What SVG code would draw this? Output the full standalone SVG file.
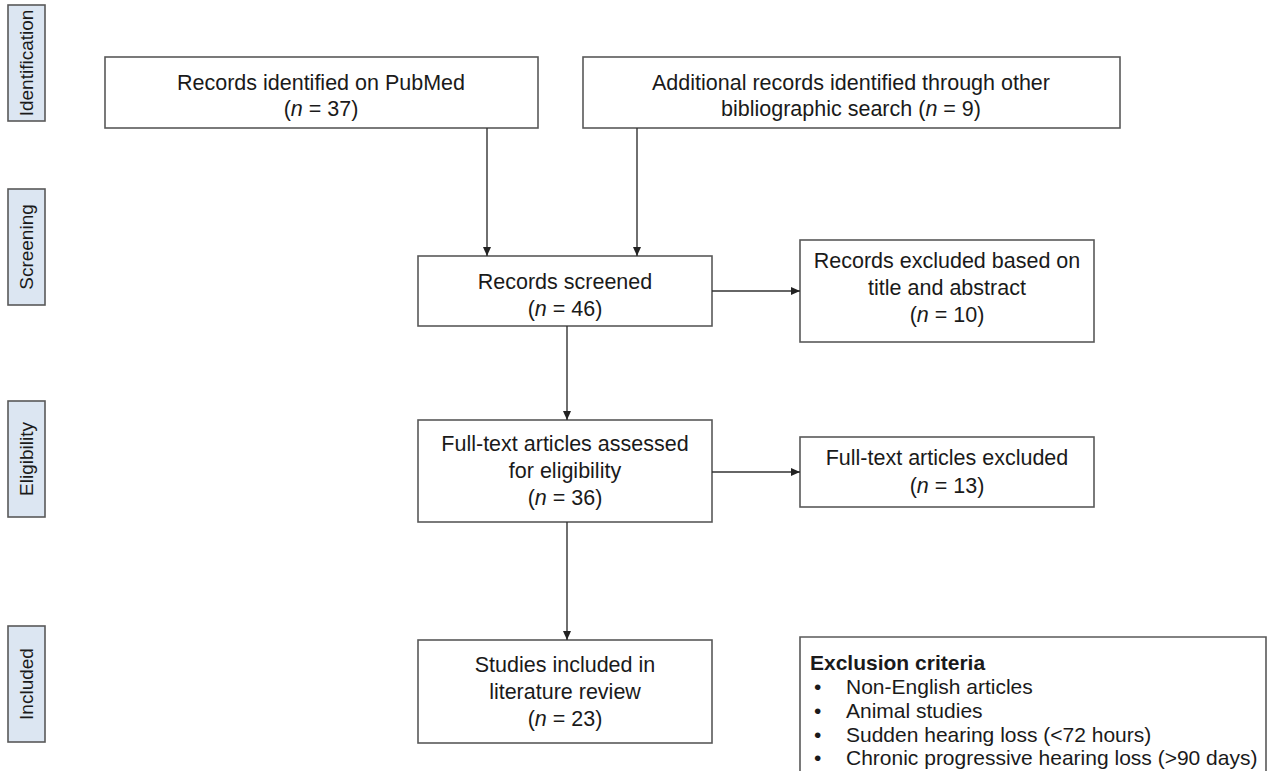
<svg xmlns="http://www.w3.org/2000/svg" width="1269" height="771" viewBox="0 0 1269 771">
<defs>
<style>
.box{fill:#fff;stroke:#595959;stroke-width:1.6}
.side{fill:#dce6f2;stroke:#595959;stroke-width:1.6}
.t{font-family:"Liberation Sans",Arial,sans-serif;font-size:21.5px;fill:#1a1a1a;text-anchor:middle}
.st{font-family:"Liberation Sans",Arial,sans-serif;font-size:19px;fill:#1a1a1a;text-anchor:middle}
.l{font-family:"Liberation Sans",Arial,sans-serif;font-size:21px;fill:#1a1a1a}
.c{stroke:#333;stroke-width:1.4;fill:none}
</style>
<marker id="ah" markerWidth="10" markerHeight="10" refX="9" refY="5" orient="auto" markerUnits="userSpaceOnUse">
<path d="M0,1 L9,5 L0,9 Z" fill="#222"/>
</marker>
</defs>
<rect width="1269" height="771" fill="#fff"/>
<g id="lbl-identification"><rect class="side" x="8" y="5" width="37" height="116"/><text class="st" transform="translate(33,63) rotate(-90)">Identification</text></g>
<g id="lbl-screening"><rect class="side" x="8" y="189" width="37" height="116"/><text class="st" transform="translate(33,247) rotate(-90)">Screening</text></g>
<g id="lbl-eligibility"><rect class="side" x="8" y="401" width="37" height="116"/><text class="st" transform="translate(33,459) rotate(-90)">Eligibility</text></g>
<g id="lbl-included"><rect class="side" x="8" y="626" width="37" height="116"/><text class="st" transform="translate(33,684) rotate(-90)">Included</text></g>
<g id="n-pubmed"><rect class="box" x="105" y="57" width="433" height="71"/><text class="t" x="321" y="90">Records identified on PubMed</text><text class="t" x="321" y="116">(<tspan font-style="italic">n</tspan> = 37)</text></g>
<g id="n-additional"><rect class="box" x="583" y="57" width="537" height="71"/><text class="t" x="851" y="90">Additional records identified through other</text><text class="t" x="851" y="116">bibliographic search (<tspan font-style="italic">n</tspan> = 9)</text></g>
<g id="n-screened"><rect class="box" x="418" y="256" width="294" height="70"/><text class="t" x="565" y="289">Records screened</text><text class="t" x="565" y="316">(<tspan font-style="italic">n</tspan> = 46)</text></g>
<g id="n-excl1"><rect class="box" x="800" y="240" width="294" height="102"/><text class="t" x="947" y="268">Records excluded based on</text><text class="t" x="947" y="295">title and abstract</text><text class="t" x="947" y="322">(<tspan font-style="italic">n</tspan> = 10)</text></g>
<g id="n-assessed"><rect class="box" x="418" y="420" width="294" height="102"/><text class="t" x="565" y="451">Full-text articles assessed</text><text class="t" x="565" y="478">for eligibility</text><text class="t" x="565" y="505">(<tspan font-style="italic">n</tspan> = 36)</text></g>
<g id="n-excl2"><rect class="box" x="800" y="437" width="294" height="70"/><text class="t" x="947" y="465">Full-text articles excluded</text><text class="t" x="947" y="493">(<tspan font-style="italic">n</tspan> = 13)</text></g>
<g id="n-included"><rect class="box" x="418" y="640" width="294" height="103"/><text class="t" x="565" y="672">Studies included in</text><text class="t" x="565" y="699">literature review</text><text class="t" x="565" y="726">(<tspan font-style="italic">n</tspan> = 23)</text></g>
<g id="n-criteria"><path class="box" d="M800,771 V637 H1266 V771"/><text class="l" x="810" y="670" font-weight="bold" font-size="20">Exclusion criteria</text>
<text class="l" x="814" y="694">•</text><text class="l" x="846" y="694">Non-English articles</text>
<text class="l" x="814" y="718">•</text><text class="l" x="846" y="718">Animal studies</text>
<text class="l" x="814" y="742">•</text><text class="l" x="846" y="742">Sudden hearing loss (&lt;72 hours)</text>
<text class="l" x="814" y="765">•</text><text class="l" x="846" y="765">Chronic progressive hearing loss (&gt;90 days)</text></g>
<g id="connectors">
<line class="c" x1="487" y1="128" x2="487" y2="256" marker-end="url(#ah)"/>
<line class="c" x1="637" y1="128" x2="637" y2="256" marker-end="url(#ah)"/>
<line class="c" x1="712" y1="291" x2="800" y2="291" marker-end="url(#ah)"/>
<line class="c" x1="567" y1="326" x2="567" y2="420" marker-end="url(#ah)"/>
<line class="c" x1="712" y1="472" x2="800" y2="472" marker-end="url(#ah)"/>
<line class="c" x1="567" y1="522" x2="567" y2="640" marker-end="url(#ah)"/>
</g>
</svg>
